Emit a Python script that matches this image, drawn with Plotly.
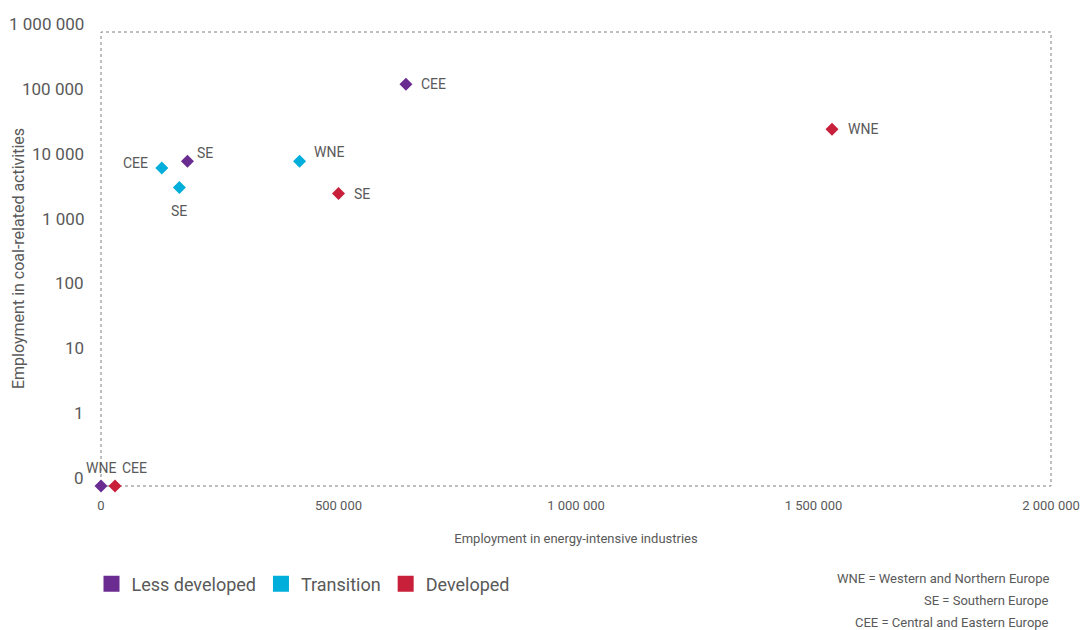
import math
import plotly.graph_objects as go

# ---- data ----
groups = ["Less developed", "Transition", "Developed"]
colors = ["#6B2C91", "#00AEDB", "#C8203A"]

less_regions = ["CEE", "SE", "WNE"]
less_energy = [642000, 182000, 0]
less_coal = [156000, 10200, 0]

trans_regions = ["CEE", "SE", "WNE"]
trans_energy = [128000, 165000, 418000]
trans_coal = [8000, 4000, 10200]

dev_regions = ["CEE", "SE", "WNE"]
dev_energy = [29500, 500000, 1539000]
dev_coal = [0, 3240, 31700]

x_ticks = [0, 500000, 1000000, 1500000, 2000000]
x_ticktext = ["0", "500 000", "1 000 000", "1 500 000", "2 000 000"]
y_ticks = [0, 1, 10, 100, 1000, 10000, 100000, 1000000]
y_ticktext = ["0", "1", "10", "100", "1 000", "10 000", "100 000", "1 000 000"]

notes = ["WNE = Western and Northern Europe",
         "SE = Southern Europe",
         "CEE = Central and Eastern Europe"]

# label placement per point: (anchor, dx px, dy px)
less_lbl = [("left", 13, 0), ("left", 8, -8), ("center", 0, -18)]
trans_lbl = [("right", -12, -5), ("center", 0, 23), ("left", 12, -9)]
dev_lbl = [("left", 5, -18), ("left", 13, 1), ("left", 14, 0)]

ZERO_POS = 0.1  # where "0" sits on the log axis

FONT = "Roboto, Liberation Sans, sans-serif"
GREY = "#595959"


def ypos(v):
    return v if v > 0 else ZERO_POS


fig = go.Figure()
annotations = []

series = [
    (groups[0], colors[0], less_regions, less_energy, less_coal, less_lbl),
    (groups[1], colors[1], trans_regions, trans_energy, trans_coal, trans_lbl),
    (groups[2], colors[2], dev_regions, dev_energy, dev_coal, dev_lbl),
]

for name, col, regs, xs, ys, lbls in series:
    fig.add_trace(go.Scatter(
        x=xs, y=[ypos(v) for v in ys], mode="markers",
        marker=dict(symbol="diamond", size=10, color=col),
        name=name, showlegend=False, cliponaxis=False,
        text=regs, customdata=ys,
        hovertemplate="%{text}: %{x}, %{customdata}<extra>" + name + "</extra>",
    ))
    for r, xv, yv, (anc, dx, dy) in zip(regs, xs, ys, lbls):
        annotations.append(dict(
            x=xv, y=math.log10(ypos(yv)), xref="x", yref="y",
            xanchor=anc, yanchor="middle", xshift=dx, yshift=-dy,
            text=r, showarrow=False,
            font=dict(family=FONT, size=14, color=GREY),
        ))

for name, col in zip(groups, colors):
    fig.add_trace(go.Scatter(
        x=[None], y=[None], mode="markers", name=name,
        marker=dict(symbol="square", size=16, color=col),
        showlegend=True,
    ))

for v, t in zip(y_ticks, y_ticktext):
    annotations.append(dict(
        x=0, xref="paper", xshift=-15, xanchor="right",
        y=math.log10(ypos(v)), yref="y", yshift=8, yanchor="middle",
        text=t, showarrow=False,
        font=dict(family=FONT, size=17, color=GREY),
    ))

annotations.append(dict(
    x=0, xref="paper", xshift=-83, xanchor="center",
    y=0.5, yref="paper", yanchor="middle", textangle=-90,
    text="Employment in coal-related activities", showarrow=False,
    font=dict(family=FONT, size=16, color=GREY),
))

note_y = [-0.2048, -0.2533, -0.2996]
for t, yy in zip(notes, note_y):
    annotations.append(dict(
        x=1, xref="paper", xanchor="right", align="right",
        y=yy, yref="paper", yanchor="middle",
        text=t, showarrow=False,
        font=dict(family=FONT, size=13, color=GREY),
    ))

fig.update_layout(
    width=1081, height=630,
    margin=dict(l=101, r=30, t=32, b=144, autoexpand=False),
    paper_bgcolor="white", plot_bgcolor="white",
    font=dict(family=FONT, color=GREY),
    xaxis=dict(
        range=[0, 2000000], tickvals=x_ticks, ticktext=x_ticktext,
        showgrid=False, zeroline=False, showline=False, ticks="",
        automargin=False,
        ticklabelstandoff=10, ticklabeloverflow="allow",
        tickfont=dict(family=FONT, size=13, color=GREY),
        title=dict(text="Employment in energy-intensive industries",
                   font=dict(family=FONT, size=13, color=GREY), standoff=21),
    ),
    yaxis=dict(
        type="log", range=[-1, 6], showticklabels=False, automargin=False,
        showgrid=False, zeroline=False, showline=False, ticks="",
    ),
    legend=dict(
        orientation="h", x=-0.01, xanchor="left", y=-0.216, yanchor="middle",
        font=dict(family=FONT, size=18, color=GREY),
        itemsizing="trace",
    ),
    annotations=annotations,
    shapes=[dict(
        type="rect", xref="paper", yref="paper", x0=0, y0=0, x1=1, y1=1,
        line=dict(color="#7f7f7f", width=1, dash="dot"), layer="below",
    )],
)

# remove the browser's default 8px body margin so the figure fills the window
fig.write_html("out.html",
               config={"displayModeBar": False},
               post_script="document.body.style.margin='0px';document.body.style.overflow='hidden';")
